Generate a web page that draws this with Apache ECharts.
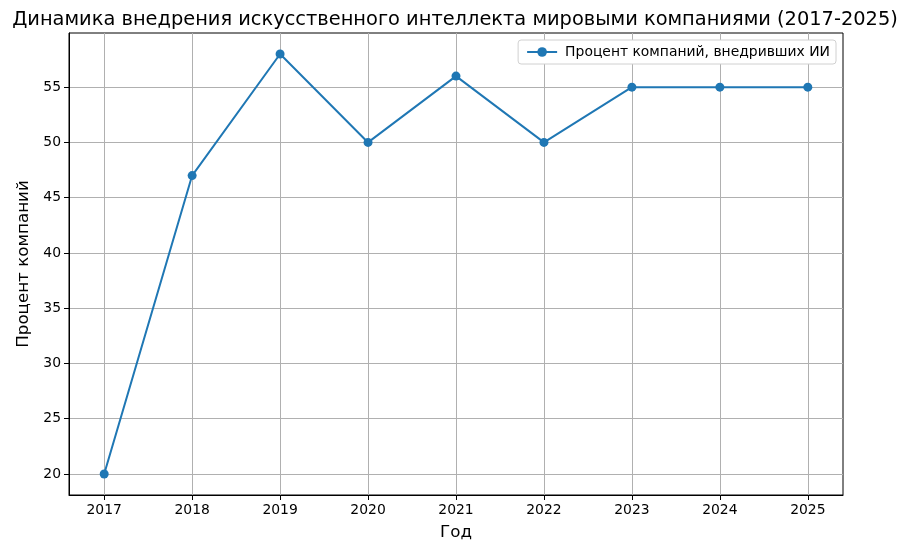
<!DOCTYPE html>
<html>
<head>
<meta charset="utf-8">
<script src="https://cdn.jsdelivr.net/npm/echarts@6/dist/echarts.min.js"></script>
<style>
  html, body { margin: 0; padding: 0; background: #fff; }
  #chart { width: 910px; height: 552px; }
</style>
</head>
<body>
<div id="chart"></div>
<script>
// данные
const years = [2017, 2018, 2019, 2020, 2021, 2022, 2023, 2024, 2025];
const percent = [20, 47, 58, 50, 56, 50, 55, 55, 55];
const yTicks = [20, 25, 30, 35, 40, 45, 50, 55];

const font = 'DejaVu Sans';
const chart = echarts.init(document.getElementById('chart'));

chart.setOption({
  animation: false,
  textStyle: { fontFamily: font },
  title: {
    text: 'Динамика внедрения искусственного интеллекта мировыми компаниями (2017-2025)',
    left: 'center',
    top: 5,
    textStyle: { fontFamily: font, fontSize: 19.4, fontWeight: 'normal', color: '#000' }
  },
  legend: {
    right: 74,
    top: 40,
    itemWidth: 30,
    itemHeight: 12,
    itemGap: 10,
    padding: [5, 6, 5, 8],
    borderColor: '#d0d0d0',
    borderWidth: 1,
    borderRadius: 3,
    backgroundColor: '#fff',
    lineStyle: { width: 2 },
    textStyle: { fontFamily: font, fontSize: 13.9, color: '#000', padding: [0, 0, 0, 3] },
    data: ['Процент компаний, внедривших ИИ']
  },
  grid: {
    left: 69, right: 67, top: 33, bottom: 57,
    show: true, borderColor: '#000', borderWidth: 1
  },
  xAxis: {
    type: 'value',
    min: 2016.6,
    max: 2025.4,
    name: 'Год',
    nameLocation: 'middle',
    nameGap: 29,
    nameTextStyle: { fontFamily: font, fontSize: 16.7, color: '#000' },
    axisLine: { show: true, lineStyle: { color: '#000', width: 1 } },
    axisTick: { show: true, length: 5, customValues: years, lineStyle: { color: '#000' } },
    axisLabel: {
      customValues: years, fontFamily: font, fontSize: 13.9, color: '#000', margin: 8,
      formatter: v => String(v)
    },
    splitLine: { show: true, lineStyle: { color: '#b0b0b0', width: 1 } }
  },
  yAxis: {
    type: 'value',
    min: 18.1,
    max: 59.9,
    name: 'Процент компаний',
    nameLocation: 'middle',
    nameGap: 33,
    nameTextStyle: { fontFamily: font, fontSize: 16.7, color: '#000' },
    axisLine: { show: true, lineStyle: { color: '#000', width: 1 } },
    axisTick: { show: true, length: 5, customValues: yTicks, lineStyle: { color: '#000' } },
    axisLabel: { customValues: yTicks, fontFamily: font, fontSize: 13.9, color: '#000', margin: 8 },
    splitLine: { show: true, lineStyle: { color: '#b0b0b0', width: 1 } }
  },
  series: [{
    name: 'Процент компаний, внедривших ИИ',
    type: 'line',
    data: years.map((y, i) => [y, percent[i]]),
    symbol: 'circle',
    symbolSize: 9,
    color: '#1f77b4',
    lineStyle: { width: 2, color: '#1f77b4' },
    itemStyle: { color: '#1f77b4' }
  }]
});
</script>
</body>
</html>
